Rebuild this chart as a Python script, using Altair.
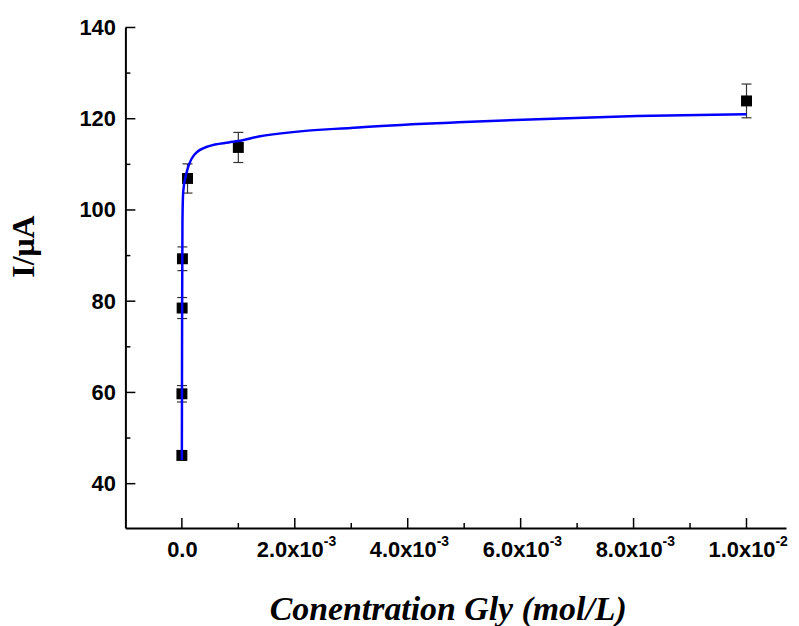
import altair as alt
import pandas as pd

# measured data points (concentration mol/L, current uA, error)
conc = [1e-7, 1e-6, 5e-6, 1e-5, 1e-4, 1e-3, 1e-2]
current = [46.2, 59.7, 78.5, 89.3, 106.9, 113.7, 123.9]
err = [1.0, 1.8, 2.3, 2.6, 3.2, 3.3, 3.7]

# fitted curve
fit_x = [0, 2e-6, 5e-6, 1.06e-5, 2.4e-5, 7e-5, 1.28e-4, 2.2e-4, 4.8e-4, 8.3e-4,
         1.0e-3, 1.36e-3, 3.12e-3, 4.89e-3, 6.3e-3, 8.06e-3, 1.0e-2]
fit_y = [45.2, 60, 80, 97.6, 104, 107.5, 110, 112.1, 114, 114.8,
         115.1, 116.1, 118.1, 119.2, 119.9, 120.6, 121.0]

x_major = [0, 0.002, 0.004, 0.006, 0.008, 0.010]
x_major_labels = ["0.0", "2.0x10", "4.0x10", "6.0x10", "8.0x10", "1.0x10"]
sup_x = [0.002, 0.004, 0.006, 0.008, 0.010]
sup_labels = ["-3", "-3", "-3", "-3", "-2"]
x_minor = [0.001, 0.003, 0.005, 0.007, 0.009]
y_major = [40, 60, 80, 100, 120, 140]
y_minor = [50, 70, 90, 110, 130]

W, H = 664, 503
XT = "Conentration Gly (mol/L)"
YT = "I/μA"
LFS = 22

xscale = alt.Scale(domain=[-0.001, 0.0107], nice=False, zero=False)
yscale = alt.Scale(domain=[30.3, 140], nice=False, zero=False)

pts = pd.DataFrame({
    "x": conc, "y": current,
    "lo": [c - e for c, e in zip(current, err)],
    "hi": [c + e for c, e in zip(current, err)],
})
caps = pd.DataFrame({"x": conc + conc, "y": list(pts["lo"]) + list(pts["hi"])})
fit = pd.DataFrame({"x": fit_x, "y": fit_y})
sups = pd.DataFrame({"x": sup_x, "t": sup_labels})

label_list = "[" + ",".join("'" + s + "'" for s in x_major_labels) + "]"
xaxis = alt.Axis(values=x_major, labelExpr=label_list + "[round(datum.value/0.002)]",
                 labelOffset=alt.ExprRef("datum.value > 0.0001 ? -5 : 0"),
                 ticks=False, grid=False, labelPadding=12, titleX=324, titleY=92.5,
                 titleAlign="center", titleBaseline="alphabetic", titleFontStyle="italic",
                 titleFontSize=34, labelFlush=False, labelOverlap=False)
yaxis = alt.Axis(values=y_major, ticks=False, grid=False, labelPadding=10,
                 titleX=-92.7, titleY=219.7, titleAlign="center", titleBaseline="alphabetic",
                 titleFontSize=32, labelFlush=False, labelOverlap=False)

def X(field):
    return alt.X(field, scale=xscale, axis=xaxis, title=XT)

def Y(field):
    return alt.Y(field, scale=yscale, axis=yaxis, title=YT)

errbars = alt.Chart(pts).mark_rule(color="#333333", strokeWidth=1.2).encode(
    x=X("x:Q"), y=Y("lo:Q"), y2="hi:Q",
)
capmarks = alt.Chart(caps).mark_tick(orient="horizontal", size=10, thickness=1.2,
                                     color="#333333", opacity=1).encode(
    x=X("x:Q"), y=Y("y:Q"),
)
squares = alt.Chart(pts).mark_square(size=121, color="black", opacity=1, filled=True).encode(
    x=X("x:Q"), y=Y("y:Q"),
)
line = alt.Chart(fit).mark_line(color="#0000ff", strokeWidth=2.5, interpolate="monotone").encode(
    x=X("x:Q"), y=Y("y:Q"),
)
suptext = alt.Chart(sups).mark_text(
    align="left", baseline="top", dx=LFS * 3.058 / 2 - 4.5, font="Liberation Sans",
    fontSize=14, fontWeight="bold", color="black",
).encode(x=X("x:Q"), y=alt.value(H + 7), text="t:N")

def xticks(vals, length):
    return alt.Chart(pd.DataFrame({"x": vals})).mark_rule(color="black", strokeWidth=1.5).encode(
        x=X("x:Q"), y=alt.value(H), y2=alt.value(H - length),
    )

def yticks(vals, length):
    return alt.Chart(pd.DataFrame({"y": vals})).mark_rule(color="black", strokeWidth=1.5).encode(
        y=Y("y:Q"), x=alt.value(0), x2=alt.value(length),
    )

chart = alt.layer(
    errbars, capmarks, squares, line, suptext,
    xticks(x_major, 10), xticks(x_minor, 5), yticks(y_major, 10), yticks(y_minor, 5),
).properties(
    width=W, height=H,
    autosize=alt.AutoSizeParams(type="none"),
    padding={"left": 118, "top": 18, "right": 5, "bottom": 97},
).configure_view(stroke=None).configure_axis(
    domainColor="black", domainWidth=2,
    labelFont="Liberation Sans", labelFontSize=LFS, labelFontWeight="bold", labelColor="black",
    titleFont="Liberation Serif", titleFontWeight="bold", titleColor="black",
)

chart.save("out.html", embed_options={"renderer": "svg", "actions": False})
